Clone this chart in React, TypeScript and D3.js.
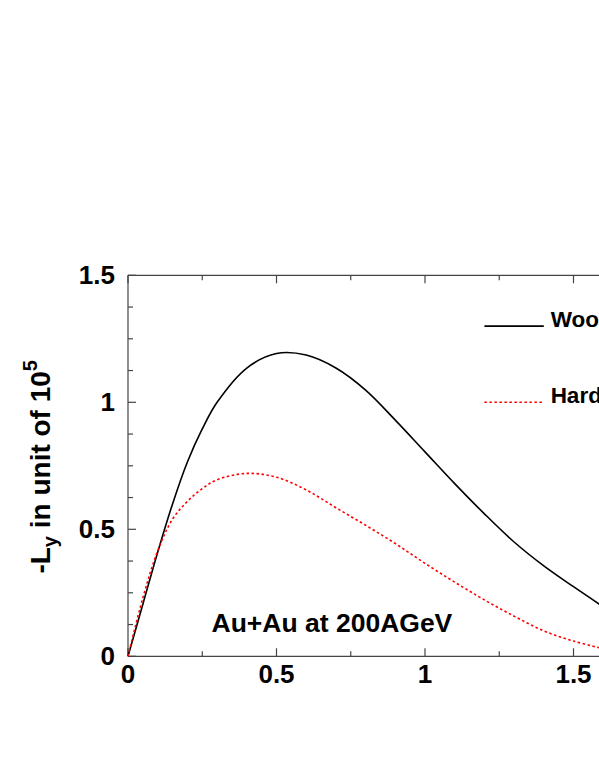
import React from "react";
import * as d3 from "d3";

// b (impact parameter) values shared by both curves
const bValues = [0, 0.05, 0.1, 0.15, 0.2, 0.25, 0.3, 0.4, 0.5, 0.6, 0.7, 0.8, 0.9, 1.0, 1.1, 1.2, 1.3, 1.4, 1.5, 1.6];
const woodsSaxon = [0, 0.205, 0.41, 0.6, 0.765, 0.895, 1.0, 1.135, 1.192, 1.186, 1.135, 1.048, 0.93, 0.805, 0.68, 0.561, 0.45, 0.356, 0.274, 0.195];
const hardSphere = [0, 0.23, 0.415, 0.54, 0.61, 0.66, 0.695, 0.72, 0.705, 0.655, 0.585, 0.516, 0.444, 0.366, 0.292, 0.222, 0.158, 0.1, 0.06, 0.03];

const xMajor = [0, 0.5, 1, 1.5, 2];
const xLabels = ["0", "0.5", "1", "1.5", "2"];
const yMajor = [0, 0.5, 1, 1.5];
const yLabels = ["0", "0.5", "1", "1.5"];

const legendNames = ["Woods-Saxon", "Hard sphere"];
const annotation = "Au+Au at 200AGeV";

const W = 599;
const H = 776;
const FONT = "'Liberation Sans', Arial, Helvetica, sans-serif";

export default function App() {
  // plot frame: left 128, bottom 656.3, top 275.3; right edge is off-page
  const x = d3.scaleLinear().domain([0, 2]).range([128, 722]);
  const y = d3.scaleLinear().domain([0, 1.5]).range([656.3, 275.3]);

  const xMinor = d3.range(0, 2.001, 0.25);
  const yMinor = d3.range(0, 1.501, 0.125);

  const line = d3
    .line<number>()
    .x((_, i) => x(bValues[i]))
    .y((d) => y(d))
    .curve(d3.curveCatmullRom.alpha(0.5));

  const isMajor = (v: number, step: number) => Math.abs(v / step - Math.round(v / step)) < 1e-6;

  const axisColor = "#444";

  return (
    <svg
      width={W}
      height={H}
      style={{ position: "absolute", left: 0, top: 0, background: "#fff" }}
      fontFamily={FONT}
      fontWeight="bold"
    >
      <rect width={W} height={H} fill="#fff" />

      {/* frame */}
      <line x1={x(0)} x2={x(2)} y1={y(0)} y2={y(0)} stroke={axisColor} strokeWidth={1.2} />
      <line x1={x(0)} x2={x(2)} y1={y(1.5)} y2={y(1.5)} stroke={axisColor} strokeWidth={1.2} />
      <line x1={x(0)} x2={x(0)} y1={y(0)} y2={y(1.5)} stroke={axisColor} strokeWidth={1.2} />

      {/* x ticks bottom and top, pointing inward */}
      {xMinor.map((v) => {
        const len = isMajor(v, 0.5) ? 8 : 5;
        return (
          <g key={"xt" + v}>
            <line x1={x(v)} x2={x(v)} y1={y(0)} y2={y(0) - len} stroke={axisColor} strokeWidth={1.2} />
            <line x1={x(v)} x2={x(v)} y1={y(1.5)} y2={y(1.5) + len} stroke={axisColor} strokeWidth={1.2} />
          </g>
        );
      })}

      {/* y ticks, pointing inward */}
      {yMinor.map((v) => {
        const len = isMajor(v, 0.5) ? 8 : 5;
        return (
          <line key={"yt" + v} x1={x(0)} x2={x(0) + len} y1={y(v)} y2={y(v)} stroke={axisColor} strokeWidth={1.2} />
        );
      })}

      {/* tick labels */}
      {xMajor.map((v, i) => (
        <text key={"xl" + v} x={x(v)} y={y(0) + 27} textAnchor="middle" fontSize={26} fill="#000">
          {xLabels[i]}
        </text>
      ))}
      {yMajor.map((v, i) => (
        <text key={"yl" + v} x={115} y={y(v) + 9} textAnchor="end" fontSize={26} fill="#000">
          {yLabels[i]}
        </text>
      ))}

      {/* y axis title */}
      <text
        transform={`translate(50, ${(y(0) + y(1.5)) / 2 + 1}) rotate(-90)`}
        textAnchor="middle"
        fontSize={28}
        fill="#000"
      >
        -L
        <tspan fontSize={20} dy={7}>y</tspan>
        <tspan dy={-7}> in unit of 10</tspan>
        <tspan fontSize={20} dy={-13}>5</tspan>
      </text>

      {/* curves */}
      <path d={line(woodsSaxon) ?? ""} fill="none" stroke="#000" strokeWidth={1.6} />
      <path d={line(hardSphere) ?? ""} fill="none" stroke="#ff0000" strokeWidth={1.6} strokeDasharray="2.5,2.5" />

      {/* legend */}
      <line x1={x(1.2)} x2={x(1.4)} y1={y(1.3)} y2={y(1.3)} stroke="#000" strokeWidth={1.6} />
      <text x={x(1.423)} y={y(1.3) + 1} fontSize={22.5} fill="#000">{legendNames[0]}</text>
      <line x1={x(1.2)} x2={x(1.4)} y1={y(1.0)} y2={y(1.0)} stroke="#ff0000" strokeWidth={1.6} strokeDasharray="2.5,2.5" />
      <text x={x(1.423)} y={y(1.0) + 1} fontSize={22.5} fill="#000">{legendNames[1]}</text>

      {/* annotation */}
      <text x={211.5} y={631.5} fontSize={26.5} fill="#000">{annotation}</text>
    </svg>
  );
}
